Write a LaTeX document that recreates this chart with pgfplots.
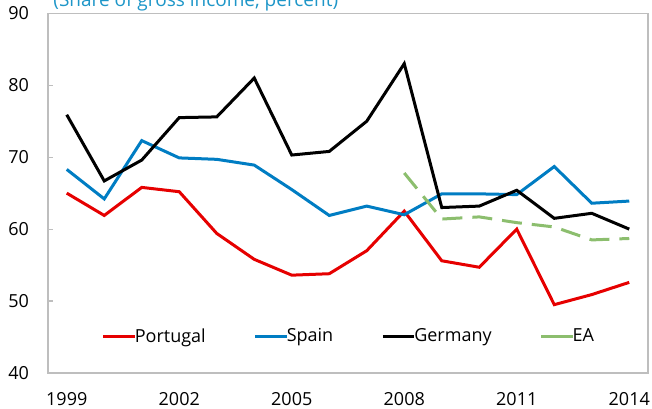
\documentclass[border=0pt]{standalone}
\usepackage{fontspec}
\setmainfont{Open Sans}
\usepackage{pgfplots}
\pgfplotsset{compat=1.18}
\definecolor{ptred}{RGB}{230,0,0}
\definecolor{esblue}{RGB}{0,125,195}
\definecolor{eagreen}{RGB}{140,190,110}
\definecolor{ttl}{RGB}{30,150,200}
\definecolor{axgray}{RGB}{190,190,190}
\begin{document}
\begin{tikzpicture}
\begin{axis}[
  scale only axis, width=300pt, height=179.85pt,
  xmin=1998.5, xmax=2014.5, ymin=40, ymax=90,
  font=\fontsize{9}{11}\selectfont,
  /pgf/number format/assume math mode=true,
  axis line style={axgray, line width=0.6pt},
  xtick={1999,2002,2005,2008,2011,2014},
  xticklabels={1999,2002,2005,2008,2011,2014},
  x tick label style={yshift=-6pt},
  major x tick style={draw=none},
  extra x ticks={2001.5,2004.5,2007.5,2010.5,2013.5},
  extra x tick labels={},
  extra x tick style={major tick style={draw=axgray, line width=0.6pt}, major tick length=3.3pt},
  ytick={40,50,...,90},
  y tick label style={xshift=-6pt},
  ytick style={draw=axgray, line width=0.6pt},
  major tick length=2.5pt,
  tick align=inside,
  xtick pos=bottom, ytick pos=left,
  legend columns=4,
  legend style={draw=none, fill=none, at={(0.5,0.101)}, anchor=center,
    /tikz/every odd column/.append style={column sep=1pt},
    /tikz/every even column/.append style={column sep=24pt},
    nodes={inner sep=0pt},
    font=\fontsize{9}{11}\selectfont, inner sep=0pt},
  legend image code/.code={\path (0pt,0pt) -- (14pt,0pt); \draw[#1, overlay] (1.8pt,0pt) -- (15.8pt,0pt);},
  legend cell align=left,
]
\addplot[ptred, line width=1.5pt] coordinates {
(1999,65.0) (2000,61.9) (2001,65.8) (2002,65.2) (2003,59.4) (2004,55.8)
(2005,53.6) (2006,53.8) (2007,57.0) (2008,62.5) (2009,55.6) (2010,54.7)
(2011,60.0) (2012,49.5) (2013,50.9) (2014,52.6)};
\addlegendentry{Portugal}
\addplot[esblue, line width=1.5pt] coordinates {
(1999,68.3) (2000,64.2) (2001,72.3) (2002,69.9) (2003,69.7) (2004,68.9)
(2005,65.5) (2006,61.9) (2007,63.2) (2008,62.0) (2009,64.9) (2010,64.9)
(2011,64.8) (2012,68.7) (2013,63.6) (2014,63.9)};
\addlegendentry{Spain}
\addplot[black, line width=1.5pt] coordinates {
(1999,75.9) (2000,66.7) (2001,69.6) (2002,75.5) (2003,75.6) (2004,81.0)
(2005,70.3) (2006,70.8) (2007,75.0) (2008,83.0) (2009,63.0) (2010,63.2)
(2011,65.4) (2012,61.5) (2013,62.2) (2014,60.0)};
\addlegendentry{Germany}
\addplot[eagreen, line width=1.5pt, dash pattern=on 10pt off 5pt, legend image post style={dash pattern=on 40pt off 1pt}] coordinates {
(2008,67.8) (2009,61.4) (2010,61.7) (2011,60.9) (2012,60.3) (2013,58.5) (2014,58.7)};
\addlegendentry{EA}
\end{axis}
\node[anchor=base west, text=ttl, font=\fontsize{9.5}{11}\selectfont, inner sep=0pt] at (2.5pt,183.25pt) {(Share of gross income, percent)};
\pgfresetboundingbox
\path[use as bounding box] (-24pt,-17.5pt) rectangle (302pt,186.5pt);
\end{tikzpicture}
\end{document}
